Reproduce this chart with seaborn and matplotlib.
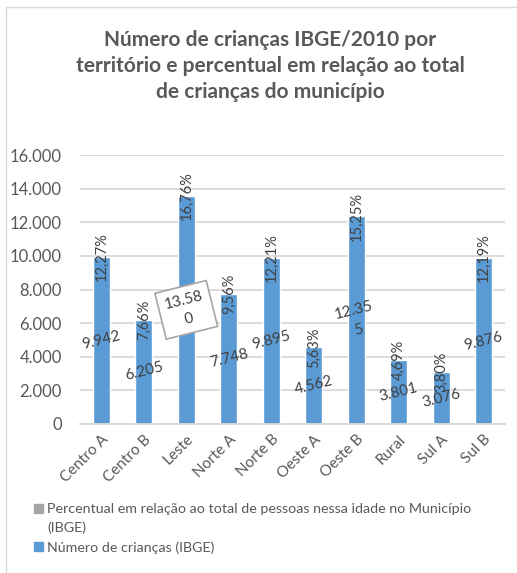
import matplotlib
matplotlib.use("Agg")
import matplotlib.pyplot as plt
import seaborn as sns
import pandas as pd
from matplotlib.patches import Patch, Rectangle
from matplotlib.legend_handler import HandlerPatch

categories = ["Centro A", "Centro B", "Leste", "Norte A", "Norte B",
              "Oeste A", "Oeste B", "Rural", "Sul A", "Sul B"]
criancas = [9942, 6205, 13580, 7748, 9895, 4562, 12355, 3801, 3076, 9876]
percentual = [12.27, 7.66, 16.76, 9.56, 12.21, 5.63, 15.25, 4.69, 3.80, 12.19]
y_ticks = [0, 2000, 4000, 6000, 8000, 10000, 12000, 14000, 16000]
title = "Número de crianças IBGE/2010 por\nterritório e percentual em relação ao total\nde crianças do município"
legend_labels = ["Percentual em relação ao total de pessoas nessa idade no Município\n(IBGE)",
                 "Número de crianças (IBGE)"]

BLUE = "#5B9BD5"
GRAY = "#A5A5A5"
TXT = "#595959"
LBL = "#404040"

sns.set_theme(style="white")
plt.rcParams["font.family"] = ["Lato", "DejaVu Sans"]

W, H = 517, 573
fig = plt.figure(figsize=(W / 100, H / 100), dpi=100)
ax = fig.add_axes([80 / W, 149 / H, 425 / W, 269 / H])

df = pd.DataFrame({"Território": categories, "Crianças": criancas})
sns.barplot(data=df, x="Território", y="Crianças", color=BLUE, saturation=1,
            width=0.4, ax=ax, zorder=2)

def fmt(v):
    return f"{v:,.0f}".replace(",", ".")

ax.set_ylim(0, 16000)
ax.set_xlim(-0.5, len(categories) - 0.5)
ax.set_yticks(y_ticks)
ax.set_yticklabels([fmt(v) for v in y_ticks])
ax.yaxis.grid(True, color="#D9D9D9", lw=1.3)
ax.set_axisbelow(True)
for s in ["top", "right", "left"]:
    ax.spines[s].set_visible(False)
ax.spines["bottom"].set_color("#D9D9D9")
ax.spines["bottom"].set_linewidth(1.3)
ax.tick_params(axis="y", length=0, pad=13, labelsize=12, labelcolor=TXT)
ax.tick_params(axis="x", length=0, pad=6, labelsize=11, labelcolor=TXT)
for t in ax.get_xticklabels():
    t.set_rotation(45)
    t.set_ha("right")
    t.set_rotation_mode("anchor")
ax.set_xlabel("")
ax.set_ylabel("")

for i, (v, p) in enumerate(zip(criancas, percentual)):
    lab = fmt(v)
    if v > 12000:
        lab = lab[:5] + "\n" + lab[5:]
    kw = {}
    if i == 2:
        kw["bbox"] = dict(boxstyle="square,pad=0.45", fc="white", ec="#A6A6A6", lw=1.2)
    ax.text(i, v / 2, lab, rotation=14, ha="center", va="center", fontsize=11,
            color=LBL, linespacing=1.5, zorder=4, rotation_mode="anchor", **kw)
    ax.text(i, v, f"{p:.2f}%".replace(".", ","), rotation=90, ha="center",
            va="center", fontsize=10.5, color=LBL, zorder=4)

fig.text(270 / W, 1 - 66 / H, title, ha="center", va="center", fontsize=15,
         fontweight="bold", color=TXT, linespacing=1.38)


def top_patch(legend, orig_handle, xdescent, ydescent, width, height, fontsize):
    nlines = orig_handle.get_label().count("\n")
    shift = nlines * 7.0
    return Rectangle((-xdescent, -ydescent + shift), width, height)


handles = [Patch(color=GRAY, label=legend_labels[0]),
           Patch(color=BLUE, label=legend_labels[1])]
leg = fig.legend(handles=handles, loc="upper left", bbox_to_anchor=(34 / W, 1 - 503 / H),
                 frameon=False, fontsize=10.3, handlelength=0.65, handleheight=0.65,
                 handletextpad=0.25, labelspacing=0.5, borderaxespad=0, borderpad=0,
                 handler_map={Patch: HandlerPatch(patch_func=top_patch)})
for t in leg.get_texts():
    t.set_color(TXT)
    t.set_linespacing(1.6)

fig.add_artist(Rectangle((6 / W, -0.1), 1.2, (H - 7) / H + 0.1, transform=fig.transFigure,
                         fill=False, edgecolor="#D9D9D9", lw=1))

fig.savefig("out.png", dpi=100)
